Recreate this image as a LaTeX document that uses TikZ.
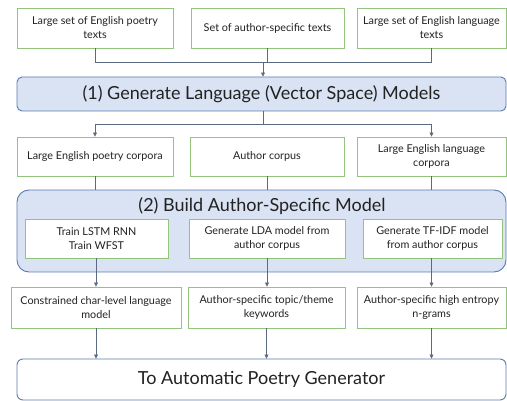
\documentclass[tikz,border=0pt]{standalone}
\usepackage{fontspec}
\setmainfont{Lato}
\usetikzlibrary{arrows.meta}
\definecolor{gborder}{HTML}{93C47D}
\definecolor{bborder}{HTML}{5B7BB0}
\definecolor{bfill}{HTML}{DAE3F3}
\definecolor{conn}{HTML}{5A6A82}
\definecolor{txt}{HTML}{222222}
\tikzset{
  gbox/.style={draw=gborder, line width=0.9pt, fill=white, align=center, inner sep=2pt,
    text=txt, font=\fontsize{10.8}{14}\selectfont},
  bbox/.style={draw=bborder, line width=0.9pt, rounded corners=5pt, align=center,
    text=txt, font=\fontsize{18}{20}\selectfont},
  conline/.style={draw=conn, line width=0.7pt},
  conarrow/.style={conline, -{Triangle[length=4pt,width=4pt]}},
}
\begin{document}
\begin{tikzpicture}[x=1pt,y=-1pt]
\useasboundingbox (0,0) rectangle (507,401);
% top row
\node[gbox, minimum width=156pt, minimum height=40pt] (t1) at (95,28) {Large set of English poetry\\texts};
\node[gbox, minimum width=153pt, minimum height=40pt] (t2) at (267.5,28) {Set of author-specific texts};
\node[gbox, minimum width=149pt, minimum height=40pt] (t3) at (431.5,28) {Large set of English language\\texts};
% model 1
\node[bbox, fill=bfill, minimum width=489pt, minimum height=34pt] (m1) at (261.5,94) {(1) Generate Language (Vector Space) Models};
% row 2
\node[gbox, minimum width=156pt, minimum height=39pt] (r2a) at (95,156.5) {Large English poetry corpora};
\node[gbox, minimum width=154pt, minimum height=39pt] (r2b) at (267,156.5) {Author corpus};
\node[gbox, minimum width=149pt, minimum height=39pt] (r2c) at (431.5,156.5) {Large English language\\corpora};
% model 2
\node[bbox, fill=bfill, rounded corners=12pt, minimum width=489pt, minimum height=82pt] (m2) at (261.5,231) {};
\node[text=txt, font=\fontsize{18}{20}\selectfont, inner sep=0pt] (m2t) at (262,206) {(2) Build Author-Specific Model};
\node[gbox, minimum width=143pt, minimum height=39pt] (ia) at (96.5,238.5) {Train LSTM RNN\\Train WFST};
\node[gbox, minimum width=156pt, minimum height=39pt] (ib) at (267,238.5) {Generate LDA model from\\author corpus};
\node[gbox, minimum width=139pt, minimum height=39pt] (ic) at (432.5,238.5) {Generate TF-IDF model\\from author corpus};
% row 3
\node[gbox, minimum width=170pt, minimum height=41pt] (r3a) at (96,307.5) {Constrained char-level language\\model};
\node[gbox, minimum width=157pt, minimum height=41pt] (r3b) at (266.5,307.5) {Author-specific topic/theme\\keywords};
\node[gbox, minimum width=149pt, minimum height=41pt] (r3c) at (431.5,307.5) {Author-specific high entropy\\n-grams};
% final
\node[bbox, fill=white, rounded corners=6pt, minimum width=489pt, minimum height=41pt] (fin) at (261.5,379.5) {To Automatic Poetry Generator};
% junctions
\coordinate (j1) at (263,62);
\coordinate (j2) at (263,124);
% connectors top
\draw[conline] (t1.south) -- (t1.south |- j1) -- (t3.south |- j1) -- (t3.south);
\draw[conline] (t2.south) -- (t2.south |- j1);
\draw[conarrow] (j1) -- (j1 |- m1.north);
% from m1
\draw[conline] (m1.south -| j2) -- (j2);
\draw[conline] (j2 -| r2a.north) -- (j2 -| r2c.north);
\draw[conarrow] (j2 -| r2a.north) -- (r2a.north);
\draw[conarrow] (j2 -| r2c.north) -- (r2c.north);
% row2 to m2
\draw[conline] (r2a.south) -- (r2a.south |- m2.north);
\draw[conline] (r2b.south) -- (r2b.south |- m2.north);
\draw[conline] (r2c.south) -- (r2c.south |- m2.north);
% inner to row3
\draw[conarrow] (r3a.north |- ia.south) -- (r3a.north);
\draw[conarrow] (ib.south) -- (ib.south |- r3b.north);
\draw[conarrow] (r3c.north |- ic.south) -- (r3c.north);
% row3 to final
\draw[conarrow] (r3a.south) -- (r3a.south |- fin.north);
\draw[conarrow] (r3b.south) -- (r3b.south |- fin.north);
\draw[conarrow] (r3c.south) -- (r3c.south |- fin.north);
\end{tikzpicture}
\end{document}
